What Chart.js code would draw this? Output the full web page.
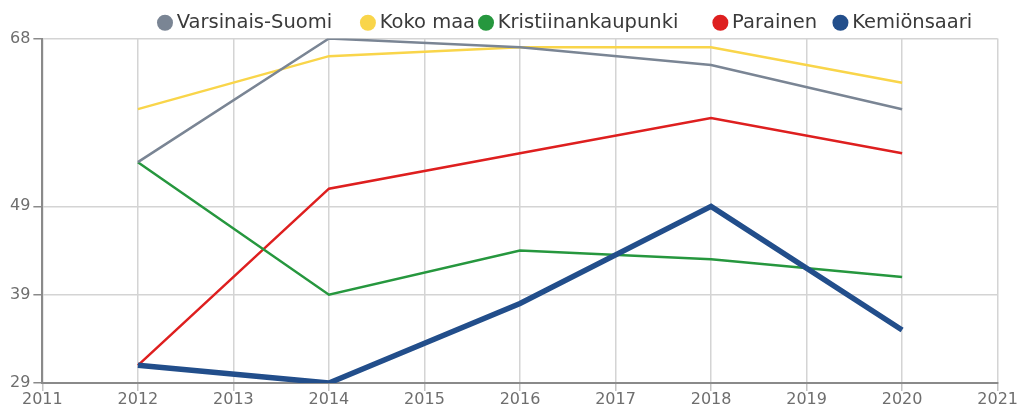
<!DOCTYPE html>
<html>
<head>
<meta charset="utf-8">
<script src="https://cdn.jsdelivr.net/npm/chart.js@4.4.1/dist/chart.umd.min.js"></script>
<style>
  html, body { margin: 0; padding: 0; background: #fff; overflow: hidden; }
  #wrap { position: relative; width: 1019px; height: 409px; }
</style>
</head>
<body>
<div id="wrap"><canvas id="chart"></canvas></div>
<script>
// data
const years = [2012, 2014, 2016, 2018, 2020];
const xTicks = [2011, 2012, 2013, 2014, 2015, 2016, 2017, 2018, 2019, 2020, 2021];
const yTicks = [29, 39, 49, 68];

const seriesNames = ['Varsinais-Suomi', 'Koko maa', 'Kristiinankaupunki', 'Parainen', 'Kemiönsaari'];
const varsinaisSuomi = [54, 68, 67, 65, 60];
const kokoMaa = [60, 66, 67, 67, 63];
const kristiinankaupunki = [54, 39, 44, 43, 41];
const parainen = [31, 51, 55, 59, 55];
const kemionsaari = [31, 29, 38, 49, 35];

// styling
const colors = ['#7a8594', '#f9d54a', '#26973e', '#de1f1f', '#224e8b'];
const widths = [2.5, 2.5, 2.5, 2.5, 5.5];
const legendGaps = [4, 0, 5, 2, 0]; // extra spaces after each legend label
const FONT = 'DejaVu Sans';

const seriesValues = [varsinaisSuomi, kokoMaa, kristiinankaupunki, parainen, kemionsaari];

function buildDatasets() {
    return seriesNames.map((name, i) => ({
        label: name,
        data: years.map((yr, j) => ({ x: yr, y: seriesValues[i][j] })),
        borderColor: colors[i],
        backgroundColor: colors[i],
        borderWidth: widths[i],
        pointRadius: 0,
        pointHoverRadius: 0,
        tension: 0,
        fill: false,
        // thick line drawn on top
        order: i === 4 ? -1 : i
    }));
}

// move the legend row to where the reference has it
const legendNudge = {
    id: 'legendNudge',
    afterLayout(chart) {
        const lg = chart.legend;
        lg.left += 147; lg.right += 147;
        lg.top += 4; lg.bottom += 4;
    }
};

const ctx = document.getElementById('chart').getContext('2d');
new Chart(ctx, {
    type: 'line',
    data: { datasets: buildDatasets() },
    plugins: [legendNudge],
    options: {
        responsive: true,
        maintainAspectRatio: false,
        animation: false,
        layout: { padding: { left: 7 } },
        plugins: {
            tooltip: { enabled: false },
            legend: {
                position: 'top',
                align: 'start',
                labels: {
                    usePointStyle: true,
                    pointStyle: 'circle',
                    boxWidth: 4,
                    boxHeight: 11.3,
                    padding: 9,
                    color: '#3a3a3a',
                    font: { family: FONT, size: 19.5 },
                    sort: (a, b) => a.datasetIndex - b.datasetIndex,
                    generateLabels(chart) {
                        const items = Chart.defaults.plugins.legend.labels.generateLabels(chart);
                        items.forEach(it => {
                            it.text = it.text + ' '.repeat(legendGaps[it.datasetIndex]);
                            it.lineWidth = 0;
                        });
                        return items;
                    }
                }
            }
        },
        scales: {
            x: {
                type: 'linear',
                min: 2011,
                max: 2021,
                afterBuildTicks: s => { s.ticks = xTicks.map(v => ({ value: v })); },
                ticks: {
                    callback: v => String(v),
                    color: '#6e6e6e',
                    font: { family: FONT, size: 16, lineHeight: 1 },
                    padding: 1,
                    maxRotation: 0,
                    autoSkip: false
                },
                grid: { color: '#d4d4d4', lineWidth: 1.5, tickLength: 8, tickColor: '#c4c4c4' },
                border: { color: '#8a8a8a', width: 2 }
            },
            y: {
                min: 29,
                max: 68,
                afterBuildTicks: s => { s.ticks = yTicks.map(v => ({ value: v })); },
                ticks: {
                    color: '#6e6e6e',
                    font: { family: FONT, size: 16 },
                    padding: 3
                },
                grid: { color: '#d4d4d4', lineWidth: 1.5, tickLength: 9, tickColor: '#8a8a8a' },
                border: { color: '#8a8a8a', width: 2 }
            }
        }
    }
});
</script>
</body>
</html>
